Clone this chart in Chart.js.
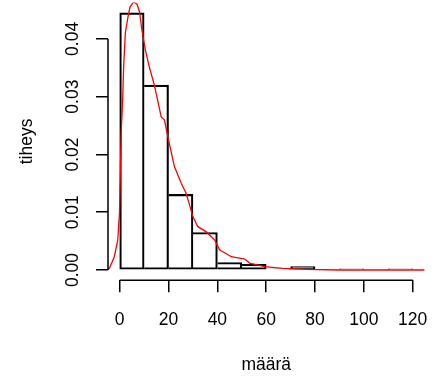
<!DOCTYPE html>
<html><head><meta charset="utf-8">
<script src="https://cdn.jsdelivr.net/npm/chart.js@4"></script>
<style>html,body{margin:0;padding:0;background:#fff}#wrap{width:448px;height:377px}</style>
</head><body><div id="wrap"><canvas id="c" width="448" height="377"></canvas></div>
<script>
// Histogram (density scale), bin width 10
const binMids = [5, 15, 25, 35, 45, 55, 65, 75, 85, 95, 105, 115];
const densities = [0.0445, 0.0320, 0.0131, 0.0065, 0.0013, 0.0010, 0.0002, 0.0006, 0.0, 0.0002, 0.0, 0.0002];
// Kernel density estimate (red line)
const kdeX = [-5.6, -4.2, -2.2, -0.8, -0.1, 0.3, 0.6, 1.2, 1.6, 2.3, 3.3, 4.2, 5.7, 7.1, 8.1, 9.1, 10.5, 12.2, 14.2, 17.0, 18.3, 19.7, 22.4, 25.2, 27.2, 30.0, 32.0, 35.5, 38.9, 40.9, 45.7, 51.2, 53.2, 59.4, 66.6, 76.4, 90, 106.5, 127];
const kdeY = [0.0, 0.0003, 0.0023, 0.0052, 0.0098, 0.0179, 0.0237, 0.0294, 0.0351, 0.0410, 0.0436, 0.0455, 0.0464, 0.0460, 0.0447, 0.0415, 0.0381, 0.0350, 0.0320, 0.0265, 0.0260, 0.0231, 0.0179, 0.0150, 0.0133, 0.0092, 0.0075, 0.0066, 0.0052, 0.0035, 0.0023, 0.0019, 0.0012, 0.0006, 0.0003, 0.0001, 0.0, 0.0, 0.0];
const xTicks = [0, 20, 40, 60, 80, 100, 120];
const yTicks = [0, 0.01, 0.02, 0.03, 0.04];
const xTitle = 'määrä';
const yTitle = 'tiheys';

const FONT = {family: '"Liberation Sans", Arial, sans-serif', size: 17.5};
const LW = 1.5;

const rAxes = {
  id: 'rAxes',
  afterDraw(chart) {
    const {ctx, chartArea, scales: {x, y}} = chart;
    ctx.save();
    ctx.strokeStyle = '#000';
    ctx.lineWidth = LW;
    ctx.beginPath();
    ctx.moveTo(x.getPixelForValue(xTicks[0]), chartArea.bottom);
    ctx.lineTo(x.getPixelForValue(xTicks[xTicks.length - 1]), chartArea.bottom);
    ctx.moveTo(chartArea.left, y.getPixelForValue(yTicks[0]));
    ctx.lineTo(chartArea.left, y.getPixelForValue(yTicks[yTicks.length - 1]));
    ctx.stroke();
    ctx.restore();
  }
};

new Chart(document.getElementById('c'), {
  data: {
    datasets: [
      {
        type: 'bar',
        data: binMids.map((m, i) => ({x: m, y: densities[i]})),
        backgroundColor: 'rgba(0,0,0,0)',
        borderColor: '#000',
        borderWidth: c => {
          const i = c.dataIndex;
          const prev = i > 0 ? densities[i - 1] : -1;
          return {top: LW, bottom: LW, right: LW, left: (prev < densities[i]) ? LW : 0};
        },
        borderSkipped: false,
        barPercentage: 1,
        categoryPercentage: 1,
        order: 2
      },
      {
        type: 'line',
        data: kdeX.map((v, i) => ({x: v, y: kdeY[i]})),
        borderColor: '#ff0000',
        borderWidth: 1.3,
        pointRadius: 0,
        tension: 0,
        fill: false,
        order: 1
      }
    ]
  },
  options: {
    responsive: false,
    devicePixelRatio: 1,
    animation: false,
    layout: {padding: {top: 2.6, right: 23.6, left: 0, bottom: 0}},
    plugins: {legend: {display: false}, tooltip: {enabled: false}},
    scales: {
      x: {
        type: 'linear',
        offset: false,
        min: -4.8, max: 124.8,
        afterBuildTicks: s => { s.ticks = xTicks.map(v => ({value: v})); },
        afterFit: s => { s.height = 96.7; s.paddingLeft = 0; s.paddingRight = 0; },
        grid: {offset: false, drawOnChartArea: false, drawTicks: true, tickLength: 12, color: '#000', lineWidth: LW},
        border: {display: false},
        ticks: {color: '#000', font: FONT, padding: 17, maxRotation: 0, minRotation: 0, autoSkip: false,
                callback: v => String(v)},
        title: {display: true, text: xTitle, color: '#000', font: FONT, padding: {top: 0, bottom: 1.5}}
      },
      y: {
        type: 'linear',
        min: -0.00178, max: 0.04628,
        afterBuildTicks: s => { s.ticks = yTicks.map(v => ({value: v})); },
        afterFit: s => { s.width = 108; s.paddingTop = 0; s.paddingBottom = 0; },
        grid: {drawOnChartArea: false, drawTicks: true, tickLength: 12, color: '#000', lineWidth: LW},
        border: {display: false},
        ticks: {color: '#000', font: FONT, padding: 5.5, minRotation: 90, maxRotation: 90, crossAlign: 'center', autoSkip: false,
                callback: v => v.toFixed(2)},
        title: {display: true, text: yTitle, color: '#000', font: FONT, padding: {top: 17, bottom: 0}}
      }
    }
  },
  plugins: [rAxes]
});
</script></body></html>
